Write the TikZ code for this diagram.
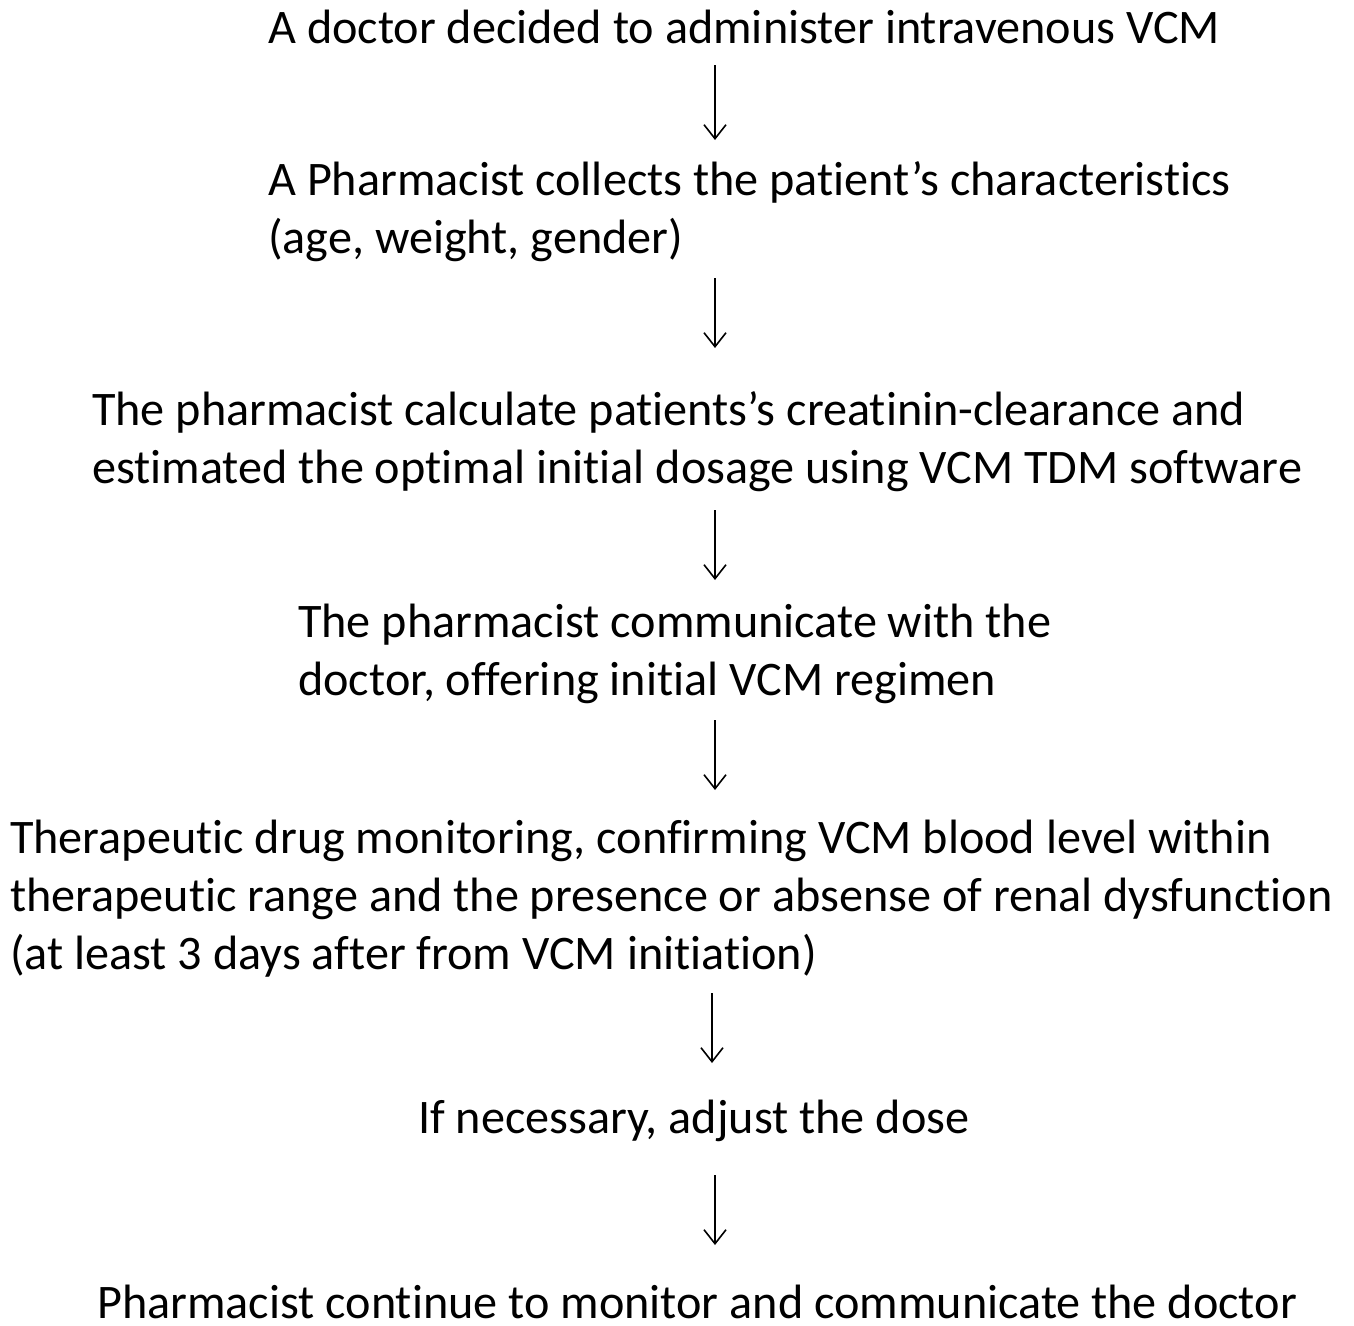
\documentclass[tikz,border=0pt]{standalone}
\usepackage{fontspec}
\setmainfont[Ligatures=CommonOff]{Carlito}
\usetikzlibrary{arrows.meta}
\begin{document}
\begin{tikzpicture}[x=1pt,y=-1pt,
  txt/.style={anchor=base west,inner sep=0pt,align=left,font=\fontsize{48.2}{58}\selectfont},
  arr/.style={line width=1.6pt,-{Straight Barb[length=14pt,width=22pt,line width=1.6pt]}}]
\useasboundingbox (0,0) rectangle (1354,1325);
% anchors are at the baseline of the last line of each text
\node[txt] (s1) at (268,43) {A doctor decided to administer intravenous VCM};
\node[txt] (s2) at (268,253) {A Pharmacist collects the patient’s characteristics\\(age, weight, gender)};
\node[txt] (s3) at (92,483) {The pharmacist calculate patients’s creatinin-clearance and\\estimated the optimal initial dosage using VCM TDM software};
\node[txt] (s4) at (298,695) {The pharmacist communicate with the\\doctor, offering initial VCM regimen};
\node[txt] (s5) at (10,969) {Therapeutic drug monitoring, confirming VCM blood level within\\therapeutic range and the presence or absense of renal dysfunction\\(at least 3 days after from VCM initiation)};
\node[txt] (s6) at (418,1133) {If necessary, adjust the dose};
\node[txt] (s7) at (97,1318) {Pharmacist continue to monitor and communicate the doctor};
\coordinate (a1s) at (715,65);  \coordinate (a1e) at (715,140);
\coordinate (a2s) at (715,278); \coordinate (a2e) at (715,348);
\coordinate (a3s) at (715,510); \coordinate (a3e) at (715,580);
\coordinate (a4s) at (715,720); \coordinate (a4e) at (715,790);
\coordinate (a5s) at (712,993); \coordinate (a5e) at (712,1063);
\coordinate (a6s) at (715,1175);\coordinate (a6e) at (715,1245);
\draw[arr] (a1s) -- (a1e);
\draw[arr] (a2s) -- (a2e);
\draw[arr] (a3s) -- (a3e);
\draw[arr] (a4s) -- (a4e);
\draw[arr] (a5s) -- (a5e);
\draw[arr] (a6s) -- (a6e);
\end{tikzpicture}
\end{document}
